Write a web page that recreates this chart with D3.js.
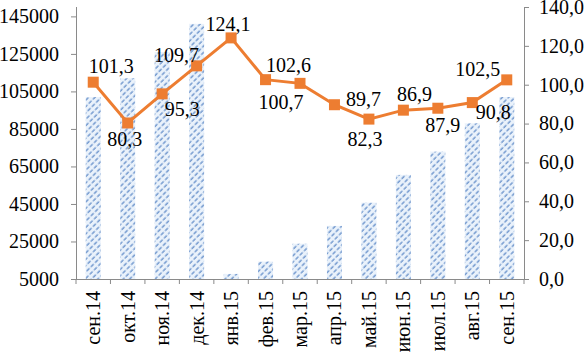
<!DOCTYPE html>
<html>
<head>
    <meta charset="utf-8">
    <title>Bars and index</title>
    <script type="text/javascript" src="https://cdn.jsdelivr.net/npm/d3@7"></script>
    <style>
        body { margin: 0; background: #fff; }
    </style>
</head>

<body>

<script type="text/javascript">

    var categories = ["сен.14", "окт.14", "ноя.14", "дек.14", "янв.15", "фев.15", "мар.15",
                      "апр.15", "май.15", "июн.15", "июл.15", "авг.15", "сен.15"];

    // bars, left axis
    var volume = [102000, 112000, 126000, 141000, 7700, 14300, 23800,
                  33300, 45700, 60500, 72900, 88000, 102000];

    // line, right axis
    var index = [101.3, 80.3, 95.3, 109.7, 124.1, 102.6, 100.7,
                 89.7, 82.3, 86.9, 87.9, 90.8, 102.5];

    var leftTicks = [5000, 25000, 45000, 65000, 85000, 105000, 125000, 145000];
    var rightTicks = [0, 20, 40, 60, 80, 100, 120, 140];

    // where each data label sits relative to its marker (dx, dy of the baseline centre)
    var labelOffsets = [[18, -9], [-3, 23], [20, 22], [-20, -4], [-3, -7], [23, -8], [-19, 26],
                        [29, 1], [-4, 27], [11, -9], [5, 24], [21, 16], [-29, -4]];

    var width = 586,
        height = 355,
        plotLeft = 76,
        plotRight = 524,
        plotTop = 7,
        plotBottom = 279;

    var serif = "'Liberation Serif', 'Times New Roman', serif";

    var fmt = function(v){ return d3.format(".1f")(v).replace(".", ","); };

    var x = d3.scaleBand()
        .domain(categories)
        .range([plotLeft, plotRight]);

    var yL = d3.scaleLinear()
        .domain([5000, 150000])
        .range([plotBottom, plotTop]);

    var yR = d3.scaleLinear()
        .domain([0, 140])
        .range([plotBottom, plotTop]);

    var svg = d3.select("body").append("svg")
        .attr("width", width)
        .attr("height", height);

    // dashed upward-diagonal hatch for the bars
    var pat = svg.append("defs").append("pattern")
        .attr("id", "hatch")
        .attr("patternUnits", "userSpaceOnUse")
        .attr("width", 4.5)
        .attr("height", 6)
        .attr("patternTransform", "rotate(45)");
    pat.append("rect")
        .attr("width", 4.5).attr("height", 6)
        .attr("fill", "#eaf2fb");
    pat.append("line")
        .attr("x1", 1).attr("y1", 0.5)
        .attr("x2", 1).attr("y2", 4.5)
        .attr("stroke", "#5683c4")
        .attr("stroke-width", 1.2);

    var barW = 15;

    svg.selectAll("rect.bar")
        .data(volume)
        .enter()
            .append("rect")
            .attr("class", "bar")
            .attr("x", function(d, i){ return x(categories[i]) + x.bandwidth() / 2 - barW / 2; })
            .attr("y", function(d){ return yL(d); })
            .attr("width", barW)
            .attr("height", function(d){ return plotBottom - yL(d); })
            .attr("fill", "url(#hatch)");

    // axes
    var axisColor = "#8a8a8a";

    var gL = svg.append("g")
        .attr("transform", "translate(" + plotLeft + ",0)")
        .call(d3.axisLeft(yL).tickValues(leftTicks).tickSize(5).tickPadding(12).tickFormat(d3.format("d")));

    var gR = svg.append("g")
        .attr("transform", "translate(" + plotRight + ",0)")
        .call(d3.axisRight(yR).tickValues(rightTicks).tickSize(5).tickPadding(10).tickFormat(fmt));

    var gX = svg.append("g")
        .attr("transform", "translate(0," + plotBottom + ")")
        .call(d3.axisBottom(x).tickSize(0).tickFormat(""));

    [gL, gR, gX].forEach(function(g){
        g.attr("font-family", serif).attr("font-size", 20);
        g.select(".domain").attr("stroke", axisColor).attr("stroke-width", 1);
        g.selectAll(".tick line").attr("stroke", axisColor);
        g.selectAll(".tick text").attr("fill", "#000");
    });
    gL.select(".domain").attr("d", "M0.5," + plotTop + "V" + plotBottom);
    gR.select(".domain").attr("d", "M0.5," + plotTop + "V" + plotBottom);
    gX.select(".domain").attr("d", "M" + plotLeft + ",0.5H" + plotRight);

    // category separators on the x axis
    gX.selectAll("line.sep")
        .data(categories.concat(["end"]))
        .enter()
            .append("line")
            .attr("class", "sep")
            .attr("x1", function(d, i){ return plotLeft + i * x.step(); })
            .attr("x2", function(d, i){ return plotLeft + i * x.step(); })
            .attr("y1", 0)
            .attr("y2", 5)
            .attr("stroke", axisColor);

    // rotated category labels
    gX.selectAll("text.cat")
        .data(categories)
        .enter()
            .append("text")
            .attr("class", "cat")
            .attr("text-anchor", "end")
            .attr("fill", "#000")
            .attr("transform", function(d){
                return "translate(" + (x(d) + x.bandwidth() / 2 + 7) + ",12) rotate(-90)";
            })
            .text(function(d){ return d; });

    // line with square markers
    var line = d3.line()
        .x(function(d, i){ return x(categories[i]) + x.bandwidth() / 2; })
        .y(function(d){ return yR(d); });

    svg.append("path")
        .datum(index)
        .attr("d", line)
        .attr("fill", "none")
        .attr("stroke", "#ed7d31")
        .attr("stroke-width", 3);

    svg.selectAll("rect.mark")
        .data(index)
        .enter()
            .append("rect")
            .attr("class", "mark")
            .attr("x", function(d, i){ return x(categories[i]) + x.bandwidth() / 2 - 5.5; })
            .attr("y", function(d){ return yR(d) - 5.5; })
            .attr("width", 11)
            .attr("height", 11)
            .attr("fill", "#ed7d31");

    svg.selectAll("text.lbl")
        .data(index)
        .enter()
            .append("text")
            .attr("class", "lbl")
            .attr("text-anchor", "middle")
            .attr("font-family", serif)
            .attr("font-size", 20)
            .attr("fill", "#000")
            .attr("x", function(d, i){ return x(categories[i]) + x.bandwidth() / 2 + labelOffsets[i][0]; })
            .attr("y", function(d, i){ return yR(d) + labelOffsets[i][1]; })
            .text(fmt);
</script>

</body>

</html>
